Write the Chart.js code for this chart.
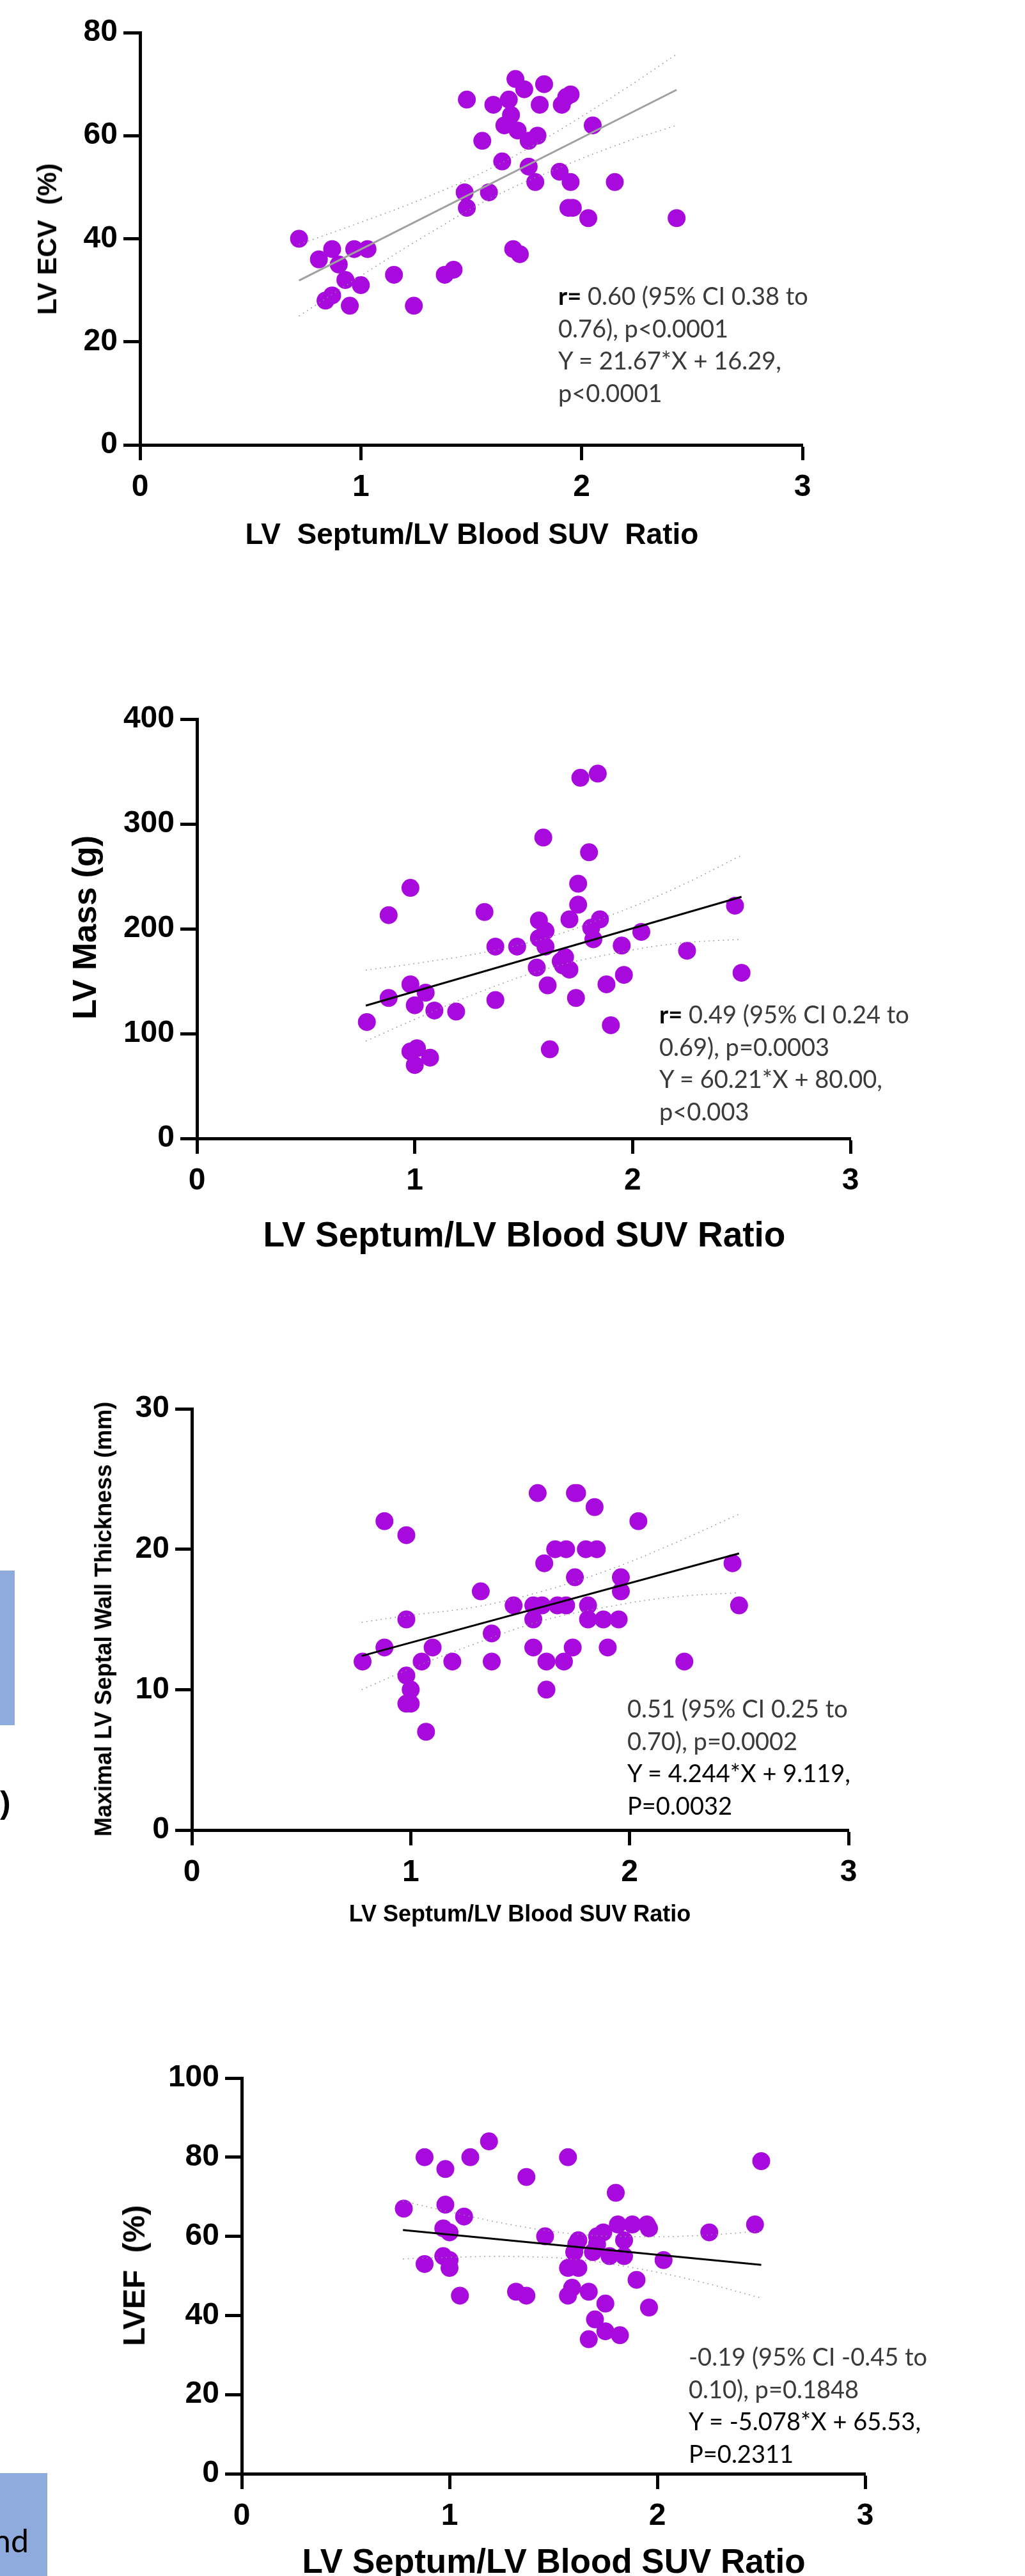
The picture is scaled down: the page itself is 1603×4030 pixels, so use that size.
<!DOCTYPE html>
<html>
<head>
<meta charset="utf-8">
<script src="https://cdn.jsdelivr.net/npm/chart.js@4.4.1/dist/chart.umd.min.js"></script>
<style>
  html, body { margin: 0; padding: 0; background: #fff; }
  body { position: relative; width: 1603px; height: 4030px; overflow: hidden; }
  canvas { position: absolute; left: 0; }
  .lbl { position: absolute; white-space: pre; line-height: 1; font-family: "Liberation Sans", Arial, sans-serif; font-weight: bold; color: #000; }
  .xt { transform: translate(-50%, -50%); }
  .yt { transform: translate(-50%, -50%) rotate(-90deg); }
  .note { position: absolute; font-family: Lato, "Open Sans", sans-serif; font-size: 38px; line-height: 50.5px; color: #3a3a3a; white-space: pre; }
  .note b { color: #000; font-weight: bold; }
  .note .dk { color: #000; }
  .box { position: absolute; left: 0; background: #8faadc; }
</style>
</head>
<body>
<canvas id="grafico1" width="1603" height="900" style="top:0px"></canvas>
<canvas id="grafico2" width="1603" height="1000" style="top:1000px"></canvas>
<canvas id="grafico3" width="1603" height="900" style="top:2150px"></canvas>
<canvas id="grafico4" width="1603" height="880" style="top:3150px"></canvas>

<!-- titulos dos eixos -->
<div class="lbl xt" style="left:738px; top:835px; font-size:46px">LV  Septum/LV Blood SUV  Ratio</div>
<div class="lbl yt" style="left:74px; top:374px; font-size:42px">LV ECV  (%)</div>
<div class="lbl xt" style="left:820px; top:1931px; font-size:55px">LV Septum/LV Blood SUV Ratio</div>
<div class="lbl yt" style="left:132px; top:1451px; font-size:52px">LV Mass (g)</div>
<div class="lbl xt" style="left:813px; top:2994px; font-size:36px">LV Septum/LV Blood SUV Ratio</div>
<div class="lbl yt" style="left:162px; top:2533px; font-size:36px">Maximal LV Septal Wall Thickness (mm)</div>
<div class="lbl xt" style="left:866px; top:4006px; font-size:53px">LV Septum/LV Blood SUV Ratio</div>
<div class="lbl yt" style="left:210px; top:3560px; font-size:48px">LVEF  (%)</div>

<!-- anotacoes -->
<div class="note" style="left:873px; top:437px"><b>r=</b> 0.60 (95% CI 0.38 to
0.76), p&lt;0.0001
Y = 21.67*X + 16.29,
p&lt;0.0001</div>
<div class="note" style="left:1031px; top:1561px"><b>r=</b> 0.49 (95% CI 0.24 to
0.69), p=0.0003
Y = 60.21*X + 80.00,
p&lt;0.003</div>
<div class="note" style="left:981px; top:2647px">0.51 (95% CI 0.25 to
0.70), p=0.0002
<span class="dk">Y = 4.244*X + 9.119,
P=0.0032</span></div>
<div class="note" style="left:1077px; top:3661px">-0.19 (95% CI -0.45 to
0.10), p=0.1848
<span class="dk">Y = -5.078*X + 65.53,
P=0.2311</span></div>

<!-- restos do slide a esquerda -->
<div class="box" style="top:2457px; width:23px; height:242px"></div>
<div class="lbl" style="left:0px; top:2795px; font-size:50px; line-height:50px">)</div>
<div class="box" style="top:3869px; width:74px; height:161px"></div>
<div class="note" style="left:-35px; top:3949px; width:80px; text-align:right; font-size:50px; line-height:50px; color:#000">nd</div>

<script>
// Grafico 1: LV ECV
const ecvX = [0.72, 0.81, 0.87, 0.90, 0.93, 0.84, 0.87, 0.95, 0.97, 1.03, 1.00, 1.15, 1.24, 1.38, 1.42, 1.48, 1.47, 1.48, 1.55, 1.58, 1.60, 1.64, 1.65, 1.67, 1.68, 1.70, 1.71, 1.69, 1.72, 1.74, 1.76, 1.76, 1.79, 1.80, 1.81, 1.83, 1.90, 1.91, 1.93, 1.95, 1.95, 1.94, 1.96, 2.03, 2.05, 2.15, 2.43];
const ecvY = [40, 36, 38, 35, 32, 28, 29, 27, 38, 38, 31, 33, 27, 33, 34, 67, 49, 46, 59, 49, 66, 55, 62, 67, 64, 71, 61, 38, 37, 69, 54, 59, 51, 60, 66, 70, 53, 66, 67.5, 68, 51, 46, 46, 44, 62, 51, 44];
const ecvFitX = [0.72, 2.43];
const ecvFitY = [31.9, 68.9];
const ecvCiX = [0.72, 1.0, 1.3, 1.6, 1.9, 2.2, 2.43];
const ecvCiUp = [38.9, 43.2, 48.1, 53.9, 61.1, 69.2, 75.8];
const ecvCiLo = [25.0, 32.8, 40.8, 48.1, 53.8, 58.8, 62.0];

// Grafico 2: LV Mass
const massX = [0.78, 0.88, 0.88, 0.98, 0.98, 1.00, 1.05, 1.09, 1.19, 0.98, 1.01, 1.00, 1.07, 1.32, 1.37, 1.37, 1.47, 1.57, 1.57, 1.59, 1.60, 1.60, 1.56, 1.61, 1.62, 1.67, 1.69, 1.71, 1.68, 1.71, 1.74, 1.75, 1.75, 1.76, 1.80, 1.81, 1.82, 1.85, 1.84, 1.88, 1.90, 1.95, 1.96, 2.04, 2.25, 2.47, 2.50];
const massY = [111, 134, 213, 239, 147, 127, 139, 122, 121, 83, 86, 70, 77, 216, 183, 132, 183, 208, 191, 287, 198, 183, 163, 146, 85, 169, 173, 161, 165, 209, 134, 223, 243, 344, 273, 201, 190, 209, 348, 147, 108, 184, 156, 197, 179, 222, 158];
const massFitX = [0.775, 2.5];
const massFitY = [126.7, 230.5];
const massCiX = [0.775, 1.0, 1.3, 1.6, 1.9, 2.2, 2.5];
const massCiUp = [160.6, 166.8, 176.8, 191.1, 212.9, 239.1, 270];
const massCiLo = [92.8, 113.6, 139.8, 161.5, 175.9, 185.9, 190];

// Grafico 3: espessura do septo
const ivsX = [0.78, 0.88, 0.88, 0.98, 0.98, 0.98, 1.00, 0.98, 1.00, 1.05, 1.10, 1.07, 1.19, 1.32, 1.37, 1.37, 1.47, 1.56, 1.56, 1.56, 1.58, 1.60, 1.61, 1.62, 1.62, 1.66, 1.67, 1.71, 1.71, 1.70, 1.74, 1.75, 1.75, 1.76, 1.80, 1.81, 1.81, 1.85, 1.84, 1.88, 1.90, 1.95, 1.96, 1.96, 2.04, 2.25, 2.47, 2.50];
const ivsY = [12, 22, 13, 21, 15, 11, 10, 9, 9, 12, 13, 7, 12, 17, 14, 12, 16, 16, 15, 13, 24, 16, 19, 12, 10, 20, 16, 20, 16, 12, 13, 18, 24, 24, 20, 16, 15, 20, 23, 15, 13, 15, 18, 17, 22, 12, 19, 16];
const ivsFitX = [0.776, 2.5];
const ivsFitY = [12.4, 19.7];
const ivsCiX = [0.776, 1.0, 1.3, 1.6, 1.9, 2.2, 2.5];
const ivsCiUp = [14.8, 15.3, 15.9, 17.0, 18.5, 20.4, 22.5];
const ivsCiLo = [10.0, 11.5, 13.3, 14.9, 15.9, 16.6, 16.9];

// Grafico 4: LVEF
const efX = [0.78, 0.88, 0.88, 0.98, 0.98, 0.97, 1.00, 0.97, 1.00, 1.00, 1.05, 1.07, 1.10, 1.19, 1.32, 1.37, 1.37, 1.46, 1.57, 1.57, 1.57, 1.59, 1.60, 1.61, 1.62, 1.62, 1.67, 1.67, 1.69, 1.70, 1.71, 1.71, 1.74, 1.75, 1.75, 1.77, 1.80, 1.82, 1.81, 1.84, 1.84, 1.88, 1.90, 1.95, 1.96, 1.96, 2.03, 2.25, 2.47, 2.50];
const efY = [67, 80, 53, 77, 68, 62, 61, 55, 54, 52, 45, 65, 80, 84, 46, 75, 45, 60, 80, 52, 45, 47, 56, 58, 59, 52, 46, 34, 56, 39, 58, 60, 61, 43, 36, 55, 71, 35, 63, 59, 55, 63, 49, 63, 62, 42, 54, 61, 63, 79];
const efFitX = [0.776, 2.5];
const efFitY = [61.6, 52.8];
const efCiX = [0.776, 1.0, 1.3, 1.6, 1.9, 2.2, 2.5];
const efCiUp = [68.9, 66.2, 62.9, 60.6, 59.9, 60.2, 61.3];
const efCiLo = [54.3, 54.7, 54.9, 54.2, 51.9, 48.6, 44.4];

const roxo = "#a80ade";
const fonteEixo = { family: "'Liberation Sans', Arial, sans-serif", size: 48, weight: "bold" };

function pontos(xs, ys) {
  return xs.map((x, i) => ({ x: x, y: ys[i] }));
}

function grafico(id, dados, yMax, yStep, pad, corReta) {
  const pontilhado = {
    type: "line",
    borderColor: "#8a8a8a",
    borderWidth: 1.5,
    borderDash: [1.5, 6],
    pointRadius: 0,
    tension: 0.4,
    fill: false,
  };
  return new Chart(document.getElementById(id), {
    type: "scatter",
    data: {
      datasets: [
        {
          data: pontos(dados.x, dados.y),
          backgroundColor: roxo,
          borderWidth: 0,
          pointRadius: 14,
          pointHoverRadius: 14,
          order: 4,
        },
        Object.assign({ data: pontos(dados.ciX, dados.ciUp), order: 3 }, pontilhado),
        Object.assign({ data: pontos(dados.ciX, dados.ciLo), order: 2 }, pontilhado),
        {
          type: "line",
          data: pontos(dados.fitX, dados.fitY),
          borderColor: corReta,
          borderWidth: 3,
          pointRadius: 0,
          fill: false,
          order: 1,
        },
      ],
    },
    options: {
      responsive: false,
      animation: false,
      events: [],
      layout: { padding: pad },
      plugins: {
        legend: { display: false },
        tooltip: { enabled: false },
      },
      scales: {
        x: {
          type: "linear",
          min: 0,
          max: 3,
          ticks: { stepSize: 1, font: fonteEixo, color: "#000", padding: 14 },
          grid: { drawOnChartArea: false, tickLength: 24, tickWidth: 5, tickColor: "#000" },
          border: { display: true, width: 5, color: "#000" },
          afterFit: (s) => { s.height = 100; },
        },
        y: {
          type: "linear",
          min: 0,
          max: yMax,
          ticks: { stepSize: yStep, font: fonteEixo, color: "#000", padding: 9 },
          grid: { drawOnChartArea: false, tickLength: 26, tickWidth: 5, tickColor: "#000" },
          border: { display: true, width: 5, color: "#000" },
          afterFit: (s) => { s.width = 200; },
        },
      },
    },
  });
}

const myChart_1 = grafico("grafico1",
  { x: ecvX, y: ecvY, fitX: ecvFitX, fitY: ecvFitY, ciX: ecvCiX, ciUp: ecvCiUp, ciLo: ecvCiLo },
  80, 20, { left: 19, right: 348, top: 51, bottom: 104 }, "#a0a0a0");

const myChart_2 = grafico("grafico2",
  { x: massX, y: massY, fitX: massFitX, fitY: massFitY, ciX: massCiX, ciUp: massCiUp, ciLo: massCiLo },
  400, 100, { left: 108, right: 273, top: 125, bottom: 119 }, "#000");

const myChart_3 = grafico("grafico3",
  { x: ivsX, y: ivsY, fitX: ivsFitX, fitY: ivsFitY, ciX: ivsCiX, ciUp: ivsCiUp, ciLo: ivsCiLo },
  30, 10, { left: 100, right: 276, top: 54, bottom: 87 }, "#000");

const myChart_4 = grafico("grafico4",
  { x: efX, y: efY, fitX: efFitX, fitY: efFitY, ciX: efCiX, ciUp: efCiUp, ciLo: efCiLo },
  100, 20, { left: 178, right: 250, top: 101, bottom: 60 }, "#000");
</script>
</body>
</html>
